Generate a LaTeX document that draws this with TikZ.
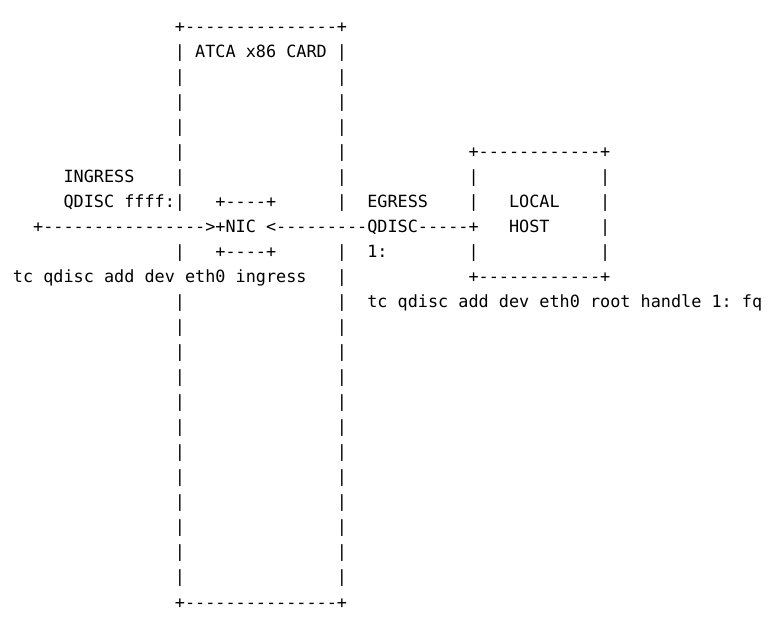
\documentclass[tikz,border=0pt]{standalone}
\usepackage{fontspec}
\setmonofont{DejaVu Sans Mono}
\begin{document}
\begin{tikzpicture}[
  asc/.style={anchor=base west, inner sep=0pt, outer sep=0pt,
    font=\ttfamily\fontsize{16.82pt}{20pt}\selectfont, text=black}
]
\useasboundingbox (0,0) rectangle (774pt,616pt);
\begin{scope}[x=10.125pt,y=-25pt,shift={(12.94pt,583pt)}]
  % ATCA card
  \node[asc] (cardtop) at (16,0) {+---------------+};
  \node[asc] (cardtitle) at (16,1) {| ATCA x86 CARD |};
  \foreach \r in {2,3,4,5,6,7,9,11,12,13,14,15,16,17,18,19,20,21,22}
    \node[asc] (cl\r) at (16,\r) {|};
  \foreach \r in {2,3,4,5,6,7,9,10,11,12,13,14,15,16,17,18,19,20,21,22}
    \node[asc] (cr\r) at (32,\r) {|};
  \node[asc] (cardbot) at (16,23) {+---------------+};
  % NIC
  \node[asc] (nictop) at (20,7) {+----+};
  \node[asc] (nicbot) at (20,9) {+----+};
  % ingress / egress labels
  \node[asc] (ingress) at (5,6) {INGRESS};
  \node[asc] (ingq) at (5,7) {QDISC ffff:};
  \node[asc] (egress) at (35,7) {EGRESS};
  \node[asc] (egone) at (35,9) {1:};
  % main arrow line
  \node[asc] (flow) at (2,8) {+---------------->+NIC <---------QDISC-----+};
  % local host box
  \node[asc] (hosttop) at (45,5) {+------------+};
  \foreach \r in {6,7,9}
    \node[asc] (hl\r) at (45,\r) {|};
  \foreach \r in {6,7,8,9}
    \node[asc] (hr\r) at (58,\r) {|};
  \node[asc] (local) at (49,7) {LOCAL};
  \node[asc] (host) at (49,8) {HOST};
  \node[asc] (hostbot) at (45,10) {+------------+};
  % commands
  \node[asc] (cmdin) at (0,10) {tc qdisc add dev eth0 ingress};
  \node[asc] (cmdout) at (35,11) {tc qdisc add dev eth0 root handle 1: fq};
\end{scope}
\end{tikzpicture}
\end{document}
